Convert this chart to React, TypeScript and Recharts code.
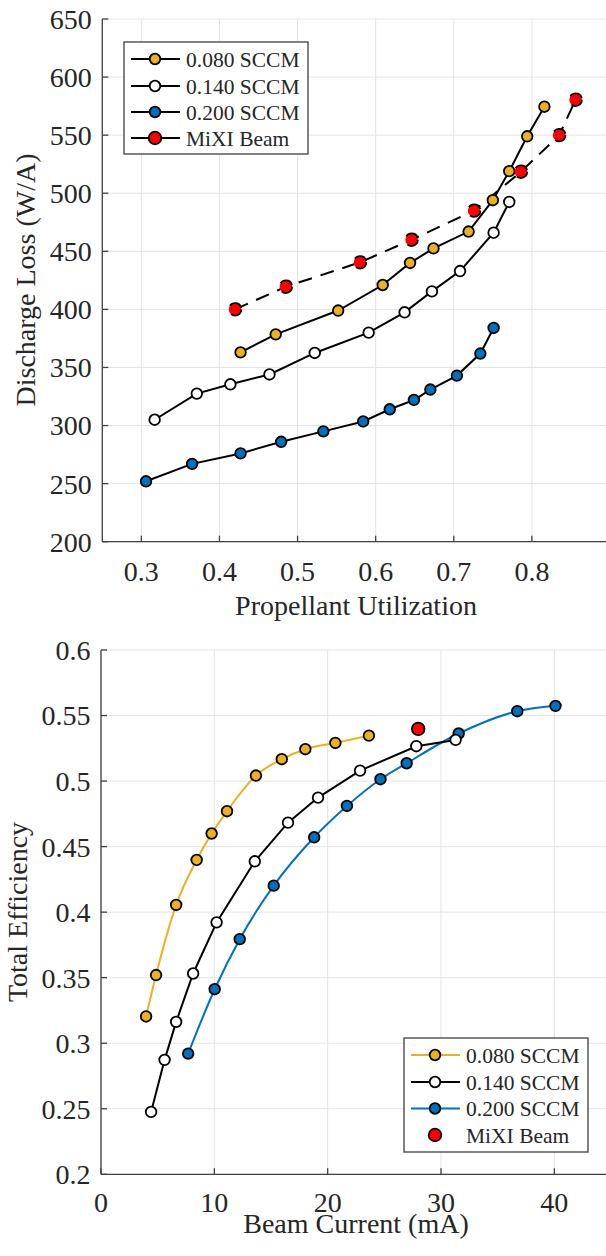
import { CartesianGrid, Legend, Line, LineChart, XAxis, YAxis } from 'recharts';

const FONT = '"Liberation Serif", "Times New Roman", Times, serif';
const INK = '#262626';
const AXIS = '#404040';
const GRID = '#e3e3e3';
const ORANGE = '#EDB120';
const BLUE = '#0072BD';
const RED = '#FF0000';

// --- top panel: discharge loss vs propellant utilization ---
const util080 = [0.427, 0.472, 0.552, 0.609, 0.644, 0.674, 0.719, 0.75, 0.771, 0.794, 0.816];
const loss080 = [363, 378.5, 399, 421, 440, 452.5, 467, 494, 519, 549, 574.5];

const util140 = [0.317, 0.371, 0.414, 0.464, 0.522, 0.591, 0.637, 0.672, 0.708, 0.751, 0.771];
const loss140 = [305, 327.5, 335.5, 344, 362.5, 380, 397.5, 415.5, 433, 466, 492.5];

const util200 = [0.306, 0.365, 0.427, 0.479, 0.533, 0.584, 0.618, 0.649, 0.67, 0.704, 0.734, 0.751];
const loss200 = [252, 267, 276, 286, 295, 303.5, 314, 322, 331, 343, 362, 384];

const utilMixi = [0.42, 0.485, 0.58, 0.646, 0.726, 0.786, 0.835, 0.856];
const lossMixi = [400, 419.5, 440.5, 460, 485, 518.5, 550, 580.5];

const utilTicks = [0.3, 0.4, 0.5, 0.6, 0.7, 0.8];
const lossTicks = [200, 250, 300, 350, 400, 450, 500, 550, 600, 650];

// --- bottom panel: total efficiency vs beam current ---
const beam080 = [3.98, 4.86, 6.63, 8.44, 9.76, 11.12, 13.67, 15.95, 18.03, 20.68, 23.64];
const eff080 = [0.3204, 0.352, 0.4055, 0.4398, 0.46, 0.477, 0.5042, 0.5167, 0.5243, 0.5291, 0.5347];

const beam140 = [4.42, 5.61, 6.63, 8.13, 10.2, 13.57, 16.5, 19.15, 22.86, 27.82, 31.29];
const eff140 = [0.2476, 0.2873, 0.3163, 0.3532, 0.3922, 0.4388, 0.4683, 0.4874, 0.508, 0.5266, 0.5314];

const beam200 = [7.69, 10.03, 12.24, 15.24, 18.81, 21.7, 24.66, 26.97, 31.56, 36.73, 40.1];
const eff200 = [0.2921, 0.3412, 0.3794, 0.4202, 0.4571, 0.481, 0.5014, 0.5136, 0.5363, 0.5533, 0.5574];

const beamMixi = [27.99];
const effMixi = [0.5398];

const beamTicks = [0, 10, 20, 30, 40];
const effTicks = [0.2, 0.25, 0.3, 0.35, 0.4, 0.45, 0.5, 0.55, 0.6];

const legendNames = ['0.080 SCCM', '0.140 SCCM', '0.200 SCCM', 'MiXI Beam'];

function zip(xs: number[], ys: number[]) {
  return xs.map((x, i) => ({ x, y: ys[i] }));
}

// tick labels drawn by hand so the serif font sticks
function XTick(props: any) {
  const { x, y, payload } = props;
  return (
    <text x={x} y={y} dy="0.71em" textAnchor="middle" fontSize={28} fontFamily={FONT} fill={INK}>
      {payload.value}
    </text>
  );
}

function YTick(props: any) {
  const { x, y, payload } = props;
  return (
    <text x={x} y={y} dy="0.355em" textAnchor="end" fontSize={28} fontFamily={FONT} fill={INK}>
      {payload.value}
    </text>
  );
}

function dot(fill: string, r = 5.3) {
  return { r, fill, stroke: '#000', strokeWidth: 1.8 };
}

type LegendItem = { name: string; fill: string; line: string | null; r: number };

function LegendBox({ items, rows, height }: { items: LegendItem[]; rows: number[]; height: number }) {
  return (
    <svg width={186} height={height + 2} style={{ display: 'block' }}>
      <rect x={1} y={1} width={184} height={height} fill="#fff" stroke={AXIS} strokeWidth={1.3} />
      {items.map((it, i) => (
        <g key={it.name}>
          {it.line && <line x1={8} x2={57} y1={rows[i]} y2={rows[i]} stroke={it.line} strokeWidth={2} />}
          <circle cx={32} cy={rows[i]} r={it.r} fill={it.fill} stroke="#000" strokeWidth={1.8} />
          <text x={63} y={rows[i] + 7.5} fontSize={21.5} fontFamily={FONT} fill={INK}>
            {it.name}
          </text>
        </g>
      ))}
    </svg>
  );
}

const topLegend: LegendItem[] = [
  { name: legendNames[0], fill: ORANGE, line: '#000', r: 5.3 },
  { name: legendNames[1], fill: '#fff', line: '#000', r: 5.3 },
  { name: legendNames[2], fill: BLUE, line: '#000', r: 5.3 },
  { name: legendNames[3], fill: RED, line: '#000', r: 6.3 },
];

const bottomLegend: LegendItem[] = [
  { name: legendNames[0], fill: ORANGE, line: ORANGE, r: 5.3 },
  { name: legendNames[1], fill: '#fff', line: '#000', r: 5.3 },
  { name: legendNames[2], fill: BLUE, line: BLUE, r: 5.3 },
  { name: legendNames[3], fill: RED, line: null, r: 6.3 },
];

function xTitle(text: string, x: number, y: number) {
  return () => (
    <text x={x} y={y} textAnchor="middle" fontSize={28} fontFamily={FONT} fill={INK}>
      {text}
    </text>
  );
}

function yTitle(text: string, x: number, y: number) {
  return () => (
    <text x={x} y={y} textAnchor="middle" fontSize={28} fontFamily={FONT} fill={INK} transform={`rotate(-90, ${x}, ${y})`}>
      {text}
    </text>
  );
}

function LossChart() {
  return (
    <LineChart width={620} height={630} margin={{ top: 19, right: 10, left: 0, bottom: 0 }}>
      <CartesianGrid stroke={GRID} strokeWidth={1} />
      <XAxis
        dataKey="x"
        type="number"
        domain={[0.25, 0.9]}
        ticks={utilTicks}
        height={88.3}
        tick={<XTick />}
        tickSize={-6}
        tickMargin={25}
        stroke={AXIS}
        strokeWidth={1.3}
        allowDataOverflow
        label={{ content: xTitle('Propellant Utilization', 356, 615) }}
      />
      <XAxis xAxisId="top" orientation="top" type="number" domain={[0.25, 0.9]} ticks={utilTicks} height={0} tickSize={-6} tickFormatter={() => ''} stroke={AXIS} strokeWidth={1.3} allowDataOverflow />
      <YAxis
        type="number"
        domain={[200, 650]}
        ticks={lossTicks}
        width={102.3}
        tick={<YTick />}
        tickSize={-6}
        tickMargin={16.6}
        stroke={AXIS}
        strokeWidth={1.3}
        allowDataOverflow
        label={{ content: yTitle('Discharge Loss (W/A)', 35, 280) }}
      />
      <YAxis yAxisId="right" orientation="right" type="number" domain={[200, 650]} ticks={lossTicks} width={0} tickSize={-6} tickFormatter={() => ''} stroke={AXIS} strokeWidth={1.3} allowDataOverflow />
      <Legend
        layout="vertical"
        align="center"
        verticalAlign="middle"
        wrapperStyle={{ left: 123, top: 41, width: 186, height: 114 }}
        content={() => <LegendBox items={topLegend} rows={[18, 45, 71, 97]} height={112} />}
      />
      <Line data={zip(util200, loss200)} dataKey="y" stroke="#000" strokeWidth={2} dot={dot(BLUE)} isAnimationActive={false} />
      <Line data={zip(util140, loss140)} dataKey="y" stroke="#000" strokeWidth={2} dot={dot('#fff')} isAnimationActive={false} />
      <Line data={zip(util080, loss080)} dataKey="y" stroke="#000" strokeWidth={2} dot={dot(ORANGE)} isAnimationActive={false} />
      <Line data={zip(utilMixi, lossMixi)} dataKey="y" stroke="#000" strokeWidth={2} strokeDasharray="14 9" dot={dot(RED, 6.3)} isAnimationActive={false} />
    </LineChart>
  );
}

function EfficiencyChart() {
  return (
    <LineChart width={620} height={626} margin={{ top: 20, right: 9, left: 0, bottom: 0 }}>
      <CartesianGrid stroke={GRID} strokeWidth={1} />
      <XAxis
        dataKey="x"
        type="number"
        domain={[0, 45]}
        ticks={beamTicks}
        height={81.7}
        tick={<XTick />}
        tickSize={-6}
        tickMargin={24}
        stroke={AXIS}
        strokeWidth={1.3}
        allowDataOverflow
        label={{ content: xTitle('Beam Current (mA)', 356, 603) }}
      />
      <XAxis xAxisId="top" orientation="top" type="number" domain={[0, 45]} ticks={beamTicks} height={0} tickSize={-6} tickFormatter={() => ''} stroke={AXIS} strokeWidth={1.3} allowDataOverflow />
      <YAxis
        type="number"
        domain={[0.2, 0.6]}
        ticks={effTicks}
        width={101}
        tick={<YTick />}
        tickSize={-6}
        tickMargin={16.6}
        stroke={AXIS}
        strokeWidth={1.3}
        allowDataOverflow
        label={{ content: yTitle('Total Efficiency', 27, 282) }}
      />
      <YAxis yAxisId="right" orientation="right" type="number" domain={[0.2, 0.6]} ticks={effTicks} width={0} tickSize={-6} tickFormatter={() => ''} stroke={AXIS} strokeWidth={1.3} allowDataOverflow />
      <Legend
        layout="vertical"
        align="center"
        verticalAlign="middle"
        wrapperStyle={{ left: 403, top: 407, width: 186, height: 116 }}
        content={() => <LegendBox items={bottomLegend} rows={[18, 45, 71.5, 98]} height={114} />}
      />
      <Line data={zip(beam200, eff200)} dataKey="y" type="monotone" stroke={BLUE} strokeWidth={2} dot={dot(BLUE)} isAnimationActive={false} />
      <Line data={zip(beam140, eff140)} dataKey="y" stroke="#000" strokeWidth={2} dot={dot('#fff')} isAnimationActive={false} />
      <Line data={zip(beam080, eff080)} dataKey="y" type="monotone" stroke={ORANGE} strokeWidth={2} dot={dot(ORANGE)} isAnimationActive={false} />
      <Line data={zip(beamMixi, effMixi)} dataKey="y" stroke="none" dot={dot(RED, 6.3)} isAnimationActive={false} />
    </LineChart>
  );
}

export default function App() {
  return (
    <div style={{ position: 'absolute', left: 0, top: 0, width: 606, height: 1256, overflow: 'hidden', background: '#fff', fontFamily: FONT }}>
      <LossChart />
      <EfficiencyChart />
    </div>
  );
}
